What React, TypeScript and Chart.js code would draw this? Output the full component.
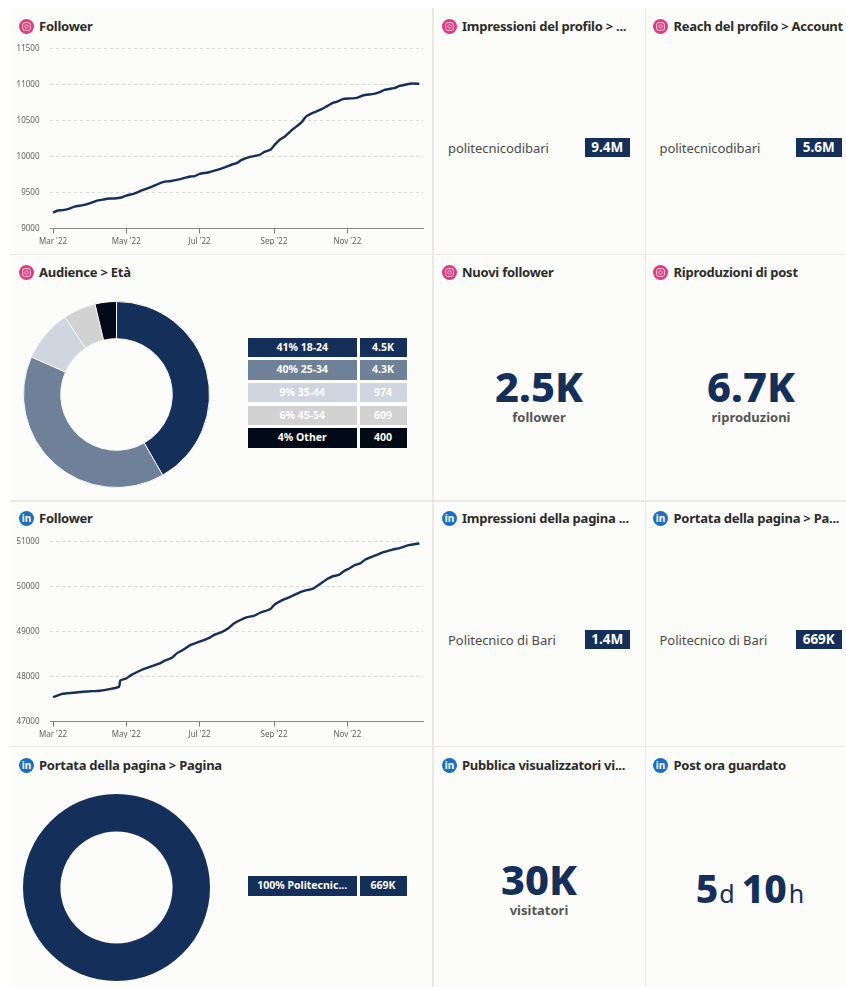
import React, { useEffect, useRef } from "react";
import { Chart, registerables } from "chart.js";

Chart.register(...registerables);

const NAVY = "#142f5a";
const FONT = "'Noto Sans', sans-serif";

const tickDays = [0, 61, 122, 184, 245];
const tickNames = ["Mar '22", "May '22", "Jul '22", "Sep '22", "Nov '22"];

const igDays = [0,4,8,13,18,25,31,36,42,47,51,57,61,67,74,82,92,97,106,114,118,122,129,136,144,149,153,157,164,172,176,181,185,189,193,199,203,207,211,217,224,228,233,236,242,247,253,258,267,272,276,285,288,294,299,305];
const igFollowers = [9222,9250,9255,9273,9305,9324,9352,9384,9403,9417,9417,9430,9458,9481,9528,9579,9648,9657,9685,9722,9727,9759,9778,9810,9856,9889,9907,9954,9995,10023,10065,10093,10171,10236,10278,10370,10421,10477,10560,10611,10662,10699,10745,10759,10801,10806,10815,10847,10870,10894,10926,10954,10977,11000,11014,11009];
const liDays = [0,4,8,17,25,33,39,47,55,56,61,65,74,81,89,93,99,103,108,114,122,131,135,140,146,150,156,161,167,172,181,184,190,194,199,207,217,222,229,233,238,242,247,251,256,260,269,275,282,289,296,305];
const liFollowers = [47542,47579,47616,47638,47660,47674,47683,47720,47772,47913,47957,48031,48150,48217,48291,48351,48417,48514,48588,48692,48773,48870,48937,48981,49070,49167,49256,49315,49345,49411,49500,49590,49686,49730,49789,49886,49960,50049,50176,50228,50258,50340,50406,50473,50518,50599,50696,50763,50815,50859,50918,50956];

const ageLabels = ["41% 18-24", "40% 25-34", "9% 35-44", "6% 45-54", "4% Other"];
const ageValues = [4500, 4300, 974, 609, 400];
const ageValueLabels = ["4.5K", "4.3K", "974", "609", "400"];
const ageColors = [NAVY, "#6f8099", "#d0d6df", "#d2d2d2", "#020a17"];

const pageLabels = ["100% Politecnic..."];
const pageValues = [669000];
const pageValueLabels = ["669K"];
const pageColors = [NAVY];

function LineChart({ top, days, values, min, max, step }: any) {
  const ref = useRef<HTMLCanvasElement>(null);
  useEffect(() => {
    const chart = new Chart(ref.current!, {
      type: "line",
      data: {
        datasets: [{
          data: days.map((d: number, i: number) => ({ x: d, y: values[i] })),
          borderColor: NAVY,
          borderWidth: 2.4,
          pointRadius: 0,
          tension: 0.15,
        }],
      },
      options: {
        animation: false,
        responsive: false,
        layout: { padding: { top: 8.5, right: 7, left: 0, bottom: 0 } },
        plugins: { legend: { display: false }, tooltip: { enabled: false } },
        scales: {
          x: {
            type: "linear",
            min: -2.5,
            max: 308,
            afterFit: (s: any) => { s.height = 16.5; s.paddingLeft = 0; s.paddingRight = 0; },
            afterBuildTicks: (s: any) => { s.ticks = tickDays.map((v) => ({ value: v })); },
            ticks: {
              autoSkip: false,
              maxRotation: 0,
              padding: 3,
              color: "#606060",
              font: { family: FONT, size: 8 },
              callback: (v: any) => tickNames[tickDays.indexOf(Number(v))],
            },
            grid: { drawOnChartArea: false, drawTicks: true, tickLength: 5, tickColor: "#777", color: "#777" },
            border: { color: "#888" },
          },
          y: {
            min,
            max,
            afterFit: (s: any) => { s.width = 40; s.paddingTop = 0; s.paddingBottom = 0; },
            ticks: {
              stepSize: step,
              padding: 10.5,
              color: "#606060",
              font: { family: FONT, size: 8 },
              callback: (v: any) => String(v),
            },
            grid: {
              drawTicks: false,
              color: (c: any) => (c.tick.value === min ? "transparent" : "#d9d9d6"),
            },
            border: { display: false, dash: [3, 3] },
          },
        },
      },
    });
    return () => chart.destroy();
  }, []);
  return <canvas ref={ref} width={420} height={205} style={{ position: "absolute", left: 10, top, width: 420, height: 205 }} />;
}

function Donut({ top, labels, values, colors }: any) {
  const ref = useRef<HTMLCanvasElement>(null);
  useEffect(() => {
    const chart = new Chart(ref.current!, {
      type: "doughnut",
      data: {
        labels,
        datasets: [{ data: values, backgroundColor: colors, borderColor: "#f4f5f6", borderWidth: values.length > 1 ? 1 : 0 }],
      },
      options: {
        animation: false,
        responsive: false,
        cutout: "60%",
        plugins: { legend: { display: false }, tooltip: { enabled: false } },
      },
    });
    return () => chart.destroy();
  }, []);
  return <canvas ref={ref} width={187} height={187} style={{ position: "absolute", left: 22.5, top, width: 187, height: 187 }} />;
}

const cellBase: React.CSSProperties = {
  position: "absolute",
  height: 19.5,
  lineHeight: "19.5px",
  textAlign: "center",
  color: "#fff",
  fontFamily: FONT,
  fontWeight: 700,
  fontSize: 10.5,
  whiteSpace: "nowrap",
};

function Legend({ top, labels, valueLabels, colors }: any) {
  return (
    <>
      {labels.map((l: string, i: number) => (
        <React.Fragment key={l}>
          <div style={{ ...cellBase, left: 247.5, width: 109.5, top: top + i * 22.6, background: colors[i] }}>{l}</div>
          <div style={{ ...cellBase, left: 359.5, width: 47, top: top + i * 22.6, background: colors[i] }}>{valueLabels[i]}</div>
        </React.Fragment>
      ))}
    </>
  );
}

function Icon({ kind, x, y }: any) {
  if (kind === "ig") {
    return (
      <svg style={{ position: "absolute", left: x - 7.5, top: y - 7.5 }} width={15} height={15} viewBox="0 0 15 15">
        <circle cx="7.5" cy="7.5" r="7.5" fill="#e4397f" />
        <rect x="3.6" y="3.6" width="7.8" height="7.8" rx="2.2" fill="none" stroke="#fbd3e2" strokeWidth="1" />
        <circle cx="7.5" cy="7.5" r="1.7" fill="none" stroke="#fbd3e2" strokeWidth="0.9" />
      </svg>
    );
  }
  return (
    <svg style={{ position: "absolute", left: x - 7.5, top: y - 7.5 }} width={15} height={15} viewBox="0 0 15 15">
      <circle cx="7.5" cy="7.5" r="7.5" fill="#1a6fc4" />
      <text x="7.5" y="11" textAnchor="middle" fontSize="10" fontWeight="700" fill="#fff" fontFamily={FONT}>in</text>
    </svg>
  );
}

function Title({ kind, x, y, text }: any) {
  return (
    <>
      <Icon kind={kind} x={x} y={y} />
      <div style={{ position: "absolute", left: x + 13, top: y - 10, height: 20, lineHeight: "20px", fontFamily: FONT, fontWeight: 700, fontSize: 13, letterSpacing: -0.24, color: "#2b2b2b", whiteSpace: "nowrap" }}>{text}</div>
    </>
  );
}

function Row({ x, y, name, value }: any) {
  return (
    <>
      <div style={{ position: "absolute", left: x, top: y - 10.5, height: 20, lineHeight: "20px", fontFamily: FONT, fontSize: 13, letterSpacing: -0.05, color: "#4a4a4a", whiteSpace: "nowrap" }}>{name}</div>
      <div style={{ position: "absolute", left: x + 136.5, top: y - 10, width: 45.5, height: 19, lineHeight: "19px", background: NAVY, color: "#fff", fontFamily: FONT, fontWeight: 700, fontSize: 13.5, textAlign: "center" }}>{value}</div>
    </>
  );
}

function Big({ cx, y, value, label }: any) {
  return (
    <>
      <div style={{ position: "absolute", left: cx - 100, width: 200, top: y - 31.5, height: 60, lineHeight: "60px", textAlign: "center", fontFamily: FONT, fontWeight: 800, fontSize: 41.5, color: NAVY }}>{value}</div>
      <div style={{ position: "absolute", left: cx - 100, width: 200, top: y + 20, height: 20, lineHeight: "20px", textAlign: "center", fontFamily: FONT, fontWeight: 700, fontSize: 13, color: "#555" }}>{label}</div>
    </>
  );
}

const colX = [[10, 422], [433.5, 211], [646, 200]];
const rowY = [[8, 245.5], [255, 245], [501.5, 244], [747, 240]];

export default function App() {
  return (
    <div style={{ position: "absolute", left: 0, top: 0, width: 846, height: 987, background: "#fff", overflow: "hidden" }}>
      <div style={{ position: "absolute", left: 9.5, top: 7.5, width: 837, height: 980, background: "#ebe7e4" }} />
      {rowY.map(([t, h]) => colX.map(([l, w]) => (
        <div key={`${t}-${l}`} style={{ position: "absolute", left: l, top: t, width: w, height: h, background: "#fcfcfa" }} />
      )))}

      <Title kind="ig" x={26} y={26} text="Follower" />
      <Title kind="ig" x={449} y={26} text="Impressioni del profilo > ..." />
      <Title kind="ig" x={660.5} y={26} text="Reach del profilo > Account" />
      <LineChart top={40} days={igDays} values={igFollowers} min={9000} max={11500} step={500} />
      <Row x={448} y={148} name="politecnicodibari" value="9.4M" />
      <Row x={659.5} y={148} name="politecnicodibari" value="5.6M" />

      <Title kind="ig" x={26} y={272} text="Audience > Età" />
      <Title kind="ig" x={449} y={272} text="Nuovi follower" />
      <Title kind="ig" x={660.5} y={272} text="Riproduzioni di post" />
      <Donut top={300.5} labels={ageLabels} values={ageValues} colors={ageColors} />
      <Legend top={337.7} labels={ageLabels} valueLabels={ageValueLabels} colors={ageColors} />
      <Big cx={539} y={387} value="2.5K" label="follower" />
      <Big cx={751} y={387} value="6.7K" label="riproduzioni" />

      <Title kind="li" x={26} y={518} text="Follower" />
      <Title kind="li" x={449} y={518} text="Impressioni della pagina ..." />
      <Title kind="li" x={660.5} y={518} text="Portata della pagina > Pa..." />
      <LineChart top={532.5} days={liDays} values={liFollowers} min={47000} max={51000} step={1000} />
      <Row x={448} y={640} name="Politecnico di Bari" value="1.4M" />
      <Row x={659.5} y={640} name="Politecnico di Bari" value="669K" />

      <Title kind="li" x={26} y={765} text="Portata della pagina > Pagina" />
      <Title kind="li" x={449} y={765} text="Pubblica visualizzatori vi..." />
      <Title kind="li" x={660.5} y={765} text="Post ora guardato" />
      <Donut top={793.5} labels={pageLabels} values={pageValues} colors={pageColors} />
      <Legend top={876} labels={pageLabels} valueLabels={pageValueLabels} colors={pageColors} />
      <Big cx={539} y={880} value="30K" label="visitatori" />
      <div style={{ position: "absolute", left: 650, width: 200, top: 858, height: 60, lineHeight: "60px", textAlign: "center", fontFamily: FONT, fontWeight: 800, fontSize: 39, color: NAVY, whiteSpace: "nowrap" }}>
        5<span style={{ fontWeight: 400, fontSize: 25, marginLeft: 1 }}>d</span><span style={{ marginLeft: 7 }}>10</span><span style={{ fontWeight: 400, fontSize: 25, marginLeft: 2 }}>h</span>
      </div>
    </div>
  );
}
